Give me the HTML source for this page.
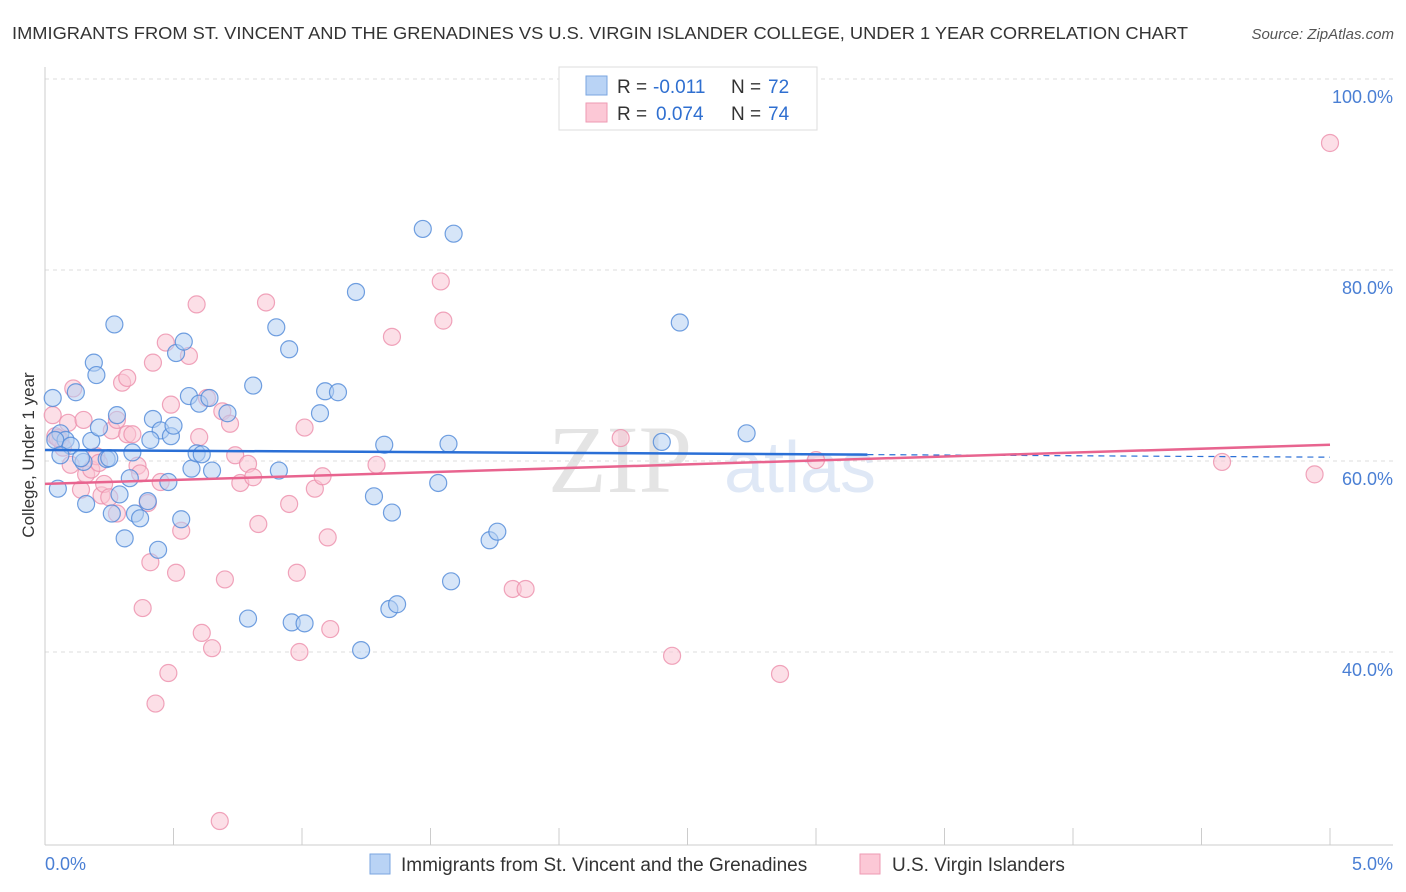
<!DOCTYPE html>
<html><head><meta charset="utf-8"><style>
body{margin:0;background:#fff;font-family:"Liberation Sans",sans-serif;}
svg{display:block}
</style></head><body>
<svg id="c" width="1406" height="892">
<text x="12" y="39" font-size="17.5" fill="#333" textLength="1176" lengthAdjust="spacingAndGlyphs">IMMIGRANTS FROM ST. VINCENT AND THE GRENADINES VS U.S. VIRGIN ISLANDER COLLEGE, UNDER 1 YEAR CORRELATION CHART</text>
<text x="1394" y="39" font-size="15" font-style="italic" fill="#555" text-anchor="end">Source: ZipAtlas.com</text>
<text x="620" y="492" font-size="96" font-family="Liberation Serif,serif" fill="#e4e4e4" text-anchor="middle">ZIP</text>
<text x="800" y="492" font-size="72" fill="#dfe8f6" text-anchor="middle">atlas</text>
<g id="grid"></g>
<g id="axes"></g>
<g id="pts"></g>
<g id="lines"></g>
<text x="34" y="455" font-size="17" fill="#333" text-anchor="middle" transform="rotate(-90 34 455)">College, Under 1 year</text>
<g>
<rect x="559" y="67" width="258" height="63" fill="#fff" stroke="#ddd"/>
<rect x="586" y="76" width="21" height="19" fill="#b9d3f5" stroke="#7aa6e0"/>
<rect x="586" y="103" width="21" height="19" fill="#fcc8d6" stroke="#ee9ab3"/>
<text x="617" y="93" font-size="19" fill="#333">R = <tspan x="653" fill="#2f6fd0">-0.011</tspan><tspan x="731">N = </tspan><tspan x="768" fill="#2f6fd0">72</tspan></text>
<text x="617" y="120" font-size="19" fill="#333">R = <tspan x="656" fill="#2f6fd0">0.074</tspan><tspan x="731">N = </tspan><tspan x="768" fill="#2f6fd0">74</tspan></text>
</g>
<g>
<rect x="370" y="854" width="20" height="20" fill="#b9d3f5" stroke="#7aa6e0"/>
<text x="401" y="871" font-size="19" fill="#333">Immigrants from St. Vincent and the Grenadines</text>
<rect x="860" y="854" width="20" height="20" fill="#fcc8d6" stroke="#ee9ab3"/>
<text x="892" y="871" font-size="19" fill="#333">U.S. Virgin Islanders</text>
</g>
</svg>
<script>
const blueX=[0.03,0.05,0.06,0.08,0.12,0.15,0.16,0.18,0.19,0.20,0.21,0.24,0.26,0.27,0.28,0.29,0.31,0.33,0.34,0.35,0.37,0.40,0.42,0.44,0.45,0.48,0.49,0.50,0.51,0.53,0.54,0.56,0.57,0.59,0.60,0.61,0.64,0.65,0.71,0.79,0.81,0.90,0.91,0.95,0.96,1.01,1.07,1.09,1.14,1.21,1.23,1.28,1.32,1.34,1.35,1.37,1.47,1.53,1.57,1.58,1.59,1.73,1.76,2.40,2.47,2.73,0.04,0.10,0.14,0.25,0.41,0.06];
const blueY=[66.6,57.1,62.9,62.2,67.2,59.9,55.5,62.1,70.3,69.0,63.5,60.2,54.5,74.3,64.8,56.5,51.9,58.2,60.9,54.5,54.0,55.8,64.4,50.7,63.2,57.8,62.6,63.7,71.3,53.9,72.5,66.8,59.2,60.8,66.0,60.7,66.6,59.0,65.0,43.5,67.9,74.0,59.0,71.7,43.1,43.0,65.0,67.3,67.2,77.7,40.2,56.3,61.7,44.5,54.6,45.0,84.3,57.7,61.8,47.4,83.8,51.7,52.6,62.0,74.5,62.9,62.2,61.6,60.3,60.3,62.2,60.6];
const pinkX=[0.03,0.04,0.06,0.07,0.09,0.10,0.11,0.14,0.15,0.16,0.18,0.20,0.22,0.23,0.25,0.26,0.28,0.28,0.30,0.32,0.32,0.34,0.36,0.37,0.40,0.41,0.38,0.42,0.43,0.45,0.47,0.48,0.49,0.51,0.53,0.56,0.59,0.60,0.61,0.63,0.65,0.68,0.69,0.70,0.72,0.74,0.76,0.79,0.81,0.83,0.86,0.95,0.98,0.99,1.01,1.05,1.08,1.10,1.11,1.29,1.35,1.54,1.55,1.82,1.87,2.24,2.44,2.86,3.00,4.58,4.94,5.00,0.05,0.21];
const pinkY=[64.8,62.6,62.2,61.4,64.0,59.6,67.6,57.0,64.3,58.6,59.1,60.5,56.4,57.6,56.2,63.2,54.5,64.3,68.2,62.8,68.7,62.8,59.5,58.7,55.6,49.4,44.6,70.3,34.6,57.8,72.4,37.8,65.9,48.3,52.7,71.0,76.4,62.5,42.0,66.6,40.4,22.3,65.2,47.6,63.9,60.6,57.7,59.7,58.3,53.4,76.6,55.5,48.3,40.0,63.5,57.1,58.4,52.0,42.4,59.6,73.0,78.8,74.7,46.6,46.6,62.4,39.6,37.7,60.1,59.9,58.6,93.3,62.4,59.8];
const blueTrend=[61.15,60.4];
const pinkTrend=[57.6,61.7];
const yTicks=[100,80,60,40];
const xTickLabels=["0.0%","5.0%"];
const NS="http://www.w3.org/2000/svg";
const sx=v=>45+v*257;
const sy=v=>79+(100-v)*9.55;
function mk(tag,attrs,parent){const e=document.createElementNS(NS,tag);for(const k in attrs)e.setAttribute(k,attrs[k]);document.getElementById(parent).appendChild(e);return e;}
yTicks.forEach(t=>{
  const l=mk('line',{x1:45,x2:1393,y1:sy(t),y2:sy(t),stroke:'#ddd','stroke-dasharray':'4 4'},'grid');
  
  
  const tx=mk('text',{x:1393,y:sy(t)+24,'font-size':18,fill:'#4a7fd4','text-anchor':'end'},'grid');
  tx.textContent=t.toFixed(1)+'%';
  
  
});
const ax=mk('line',{x1:45,x2:1393,y1:845,y2:845,stroke:'#ccc'},'axes');


const ay=mk('line',{x1:45,x2:45,y1:67,y2:845,stroke:'#ccc'},'axes');


for(let i=0;i<=10;i++){const t=mk('line',{x1:sx(i*0.5),x2:sx(i*0.5),y1:828,y2:845,stroke:'#ccc'},'axes');

}
[[0,'start',45],[5,'end',1393]].forEach((d,i)=>{const t=mk('text',{x:d[2],y:870,'font-size':18,fill:'#4a7fd4','text-anchor':d[1]},'axes');t.textContent=xTickLabels[i];

});
function pts(X,Y,fill,stroke,name){X.forEach((x,i)=>{const c=mk('circle',{cx:sx(x),cy:sy(Y[i]),r:8.5,fill:fill,'fill-opacity':0.55,stroke:stroke,'stroke-width':1.2,'stroke-opacity':0.8},'pts');

});}
pts(pinkX,pinkY,'#f9c4d3','#ec8fab','pink-point');
pts(blueX,blueY,'#b5d0f3','#4f88d8','blue-point');
const xm=3.2;
const bl=mk('line',{x1:sx(0),y1:sy(blueTrend[0]),x2:sx(xm),y2:sy(blueTrend[0]+(blueTrend[1]-blueTrend[0])*xm/5),stroke:'#2a6fd6','stroke-width':2.5},'lines');


const bd=mk('line',{x1:sx(xm),y1:sy(blueTrend[0]+(blueTrend[1]-blueTrend[0])*xm/5),x2:sx(5),y2:sy(blueTrend[1]),stroke:'#2a6fd6','stroke-width':1.2,'stroke-dasharray':'6 5'},'lines');


const pl=mk('line',{x1:sx(0),y1:sy(pinkTrend[0]),x2:sx(5),y2:sy(pinkTrend[1]),stroke:'#e8648f','stroke-width':2.5},'lines');


</script>
</body></html>
